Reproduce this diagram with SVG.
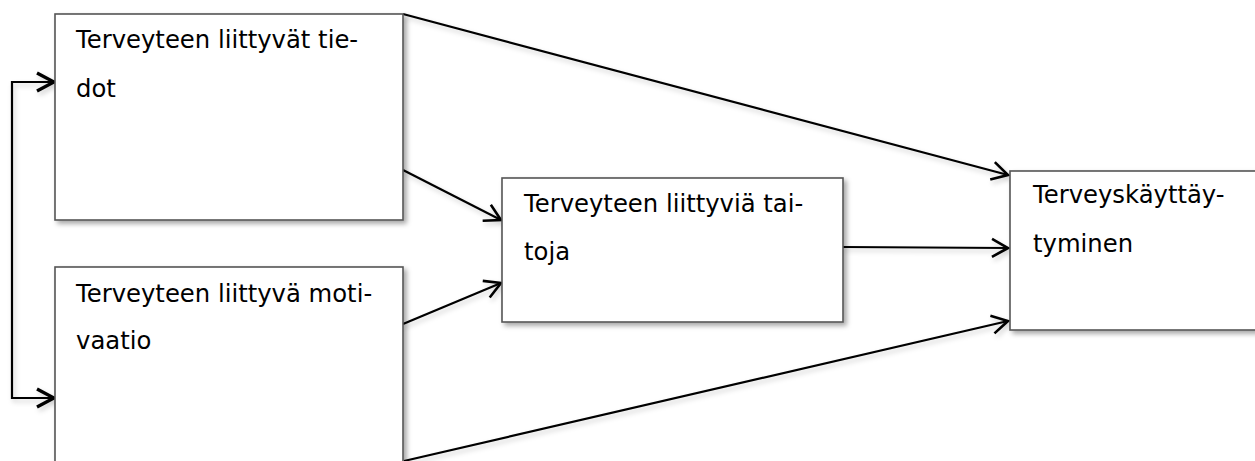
<svg xmlns="http://www.w3.org/2000/svg" width="1255" height="461" viewBox="0 0 1255 461">
<style>
.box{fill:#fff;stroke:#555;stroke-width:1.6;filter:url(#sh)}
.lbl{font-family:"DejaVu Sans",sans-serif;font-size:24.3px;fill:#000}
.ln{fill:none;stroke:#000;stroke-width:2.2;filter:url(#shl)}
</style>
<defs>
<filter id="sh" x="-10%" y="-10%" width="130%" height="130%">
<feDropShadow dx="3" dy="3" stdDeviation="2.5" flood-color="#000" flood-opacity="0.35"/>
</filter>
<filter id="shl" filterUnits="userSpaceOnUse" x="0" y="0" width="1255" height="461">
<feDropShadow dx="2" dy="3" stdDeviation="2.5" flood-color="#000" flood-opacity="0.2"/>
</filter>
<marker id="ah" viewBox="0 0 22 22" refX="20" refY="11" markerWidth="22" markerHeight="22" markerUnits="userSpaceOnUse" orient="auto-start-reverse">
<path d="M4 2 L20 11 L4 20" fill="none" stroke="#000" stroke-width="2.6"/>
</marker>
<marker id="ahb" viewBox="0 0 22 22" refX="20" refY="11" markerWidth="22" markerHeight="22" markerUnits="userSpaceOnUse" orient="auto-start-reverse">
<path d="M3 2 L20 11 L3 20" fill="none" stroke="#000" stroke-width="3.4"/>
</marker>
</defs>
<g id="connectors">
<path class="ln" d="M54 82 H12 V398 H54" marker-start="url(#ahb)" marker-end="url(#ahb)"/>
<path class="ln" d="M403 14 L1008 175" marker-end="url(#ah)"/>
<path class="ln" d="M403 170 L501 220" marker-end="url(#ah)"/>
<path class="ln" d="M403 324 L501 283" marker-end="url(#ah)"/>
<path class="ln" d="M843 247 L1008 248" marker-end="url(#ah)"/>
<path class="ln" d="M404 461 L1008 321" marker-end="url(#ah)"/>
</g>
<g id="node-tiedot">
<rect class="box" x="55" y="14" width="348" height="206"/>
<text class="lbl" x="76" y="48">Terveyteen liittyvät tie-</text>
<text class="lbl" x="76" y="97">dot</text>
</g>
<g id="node-motivaatio">
<rect class="box" x="55" y="267" width="348" height="210"/>
<text class="lbl" x="76" y="302">Terveyteen liittyvä moti-</text>
<text class="lbl" x="76" y="349">vaatio</text>
</g>
<g id="node-taitoja">
<rect class="box" x="502" y="178" width="341" height="144"/>
<text class="lbl" x="524" y="212">Terveyteen liittyviä tai-</text>
<text class="lbl" x="524" y="260">toja</text>
</g>
<g id="node-kayttaytyminen">
<rect class="box" x="1010" y="171" width="260" height="159"/>
<text class="lbl" x="1033" y="203">Terveyskäyttäy-</text>
<text class="lbl" x="1033" y="252">tyminen</text>
</g>
</svg>
